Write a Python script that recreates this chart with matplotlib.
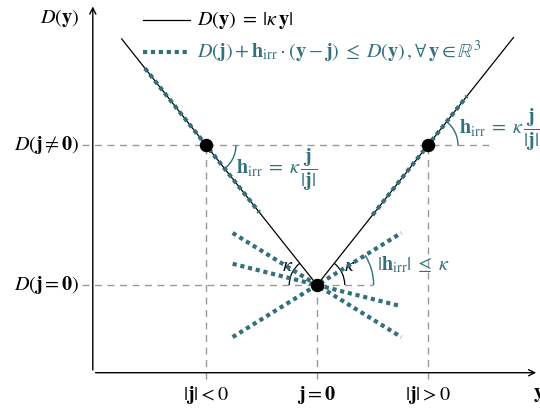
import numpy as np
import matplotlib.pyplot as plt
from matplotlib.patches import Arc

plt.rcParams['mathtext.fontset'] = 'stix'
plt.rcParams['font.family'] = 'STIXGeneral'

teal = '#31707c'

# dissipation potential D(y) = |kappa y|
kappa = 1.26
y_min, y_max = -1.76, 1.77

# points where the subgradient is taken
j_points = [-1.0, 0.0, 1.0]
# tangent segments at j != 0 (start, end)
tangent_left = [-1.55, -0.52]
tangent_right = [0.50, 1.35]
# a few admissible subgradients at j = 0, as fractions of kappa
h_at_zero = [-0.49, -0.20, 0.49]
zero_span = [-0.76, 0.76]

xtick_labels = [r'$|\mathbf{j}| < 0$', r'$\mathbf{j} = \mathbf{0}$', r'$|\mathbf{j}| > 0$']
ytick_labels = [r'$D(\mathbf{j} = \mathbf{0})$', r'$D(\mathbf{j} \neq \mathbf{0})$']

fig = plt.figure(figsize=(5.4, 4.09), dpi=100)
ax = fig.add_axes([0, 0, 1, 1])
ax.set_xlim(-2.856, 2.009)
ax.set_ylim(-1.117, 2.568)
ax.axis('off')

D = lambda y: kappa * np.abs(y)

x0, y0 = -2.02, -0.79  # axis origin

# helper dashed lines
dash = dict(color='#999999', lw=1.0, ls=(0, (5, 4)), zorder=1)
ax.plot([-2.12, 1.56], [D(1), D(1)], **dash)
ax.plot([-2.12, 0.5], [0, 0], **dash)
for j in j_points:
    ax.plot([j, j], [-0.85, D(j)], **dash)

# axes with arrows
ax.annotate('', xy=(x0, 2.535), xytext=(x0, y0),
            arrowprops=dict(arrowstyle='->', color='black', lw=1.0, mutation_scale=11))
ax.annotate('', xy=(2.0, y0), xytext=(x0, y0),
            arrowprops=dict(arrowstyle='->', color='black', lw=1.0, mutation_scale=11))

# the V-shaped potential
ys = np.array([y_min, 0.0, y_max])
ax.plot(ys, D(ys), color='black', lw=0.9, zorder=3)

dot = dict(color=teal, lw=3.0, ls=(0, (1, 0.9)), dash_capstyle='butt', zorder=4)
# tangents at j != 0: h = kappa * sign(j)
for seg, j in [(tangent_left, -1.0), (tangent_right, 1.0)]:
    xs = np.array(seg)
    ax.plot(xs, D(j) + kappa * np.sign(j) * (xs - j), **dot)
# subgradients at j = 0
xs = np.array(zero_span)
for h in h_at_zero:
    ax.plot(xs, h * kappa * xs, **dot)

ax.scatter(j_points, [D(j) for j in j_points], s=75, color='black', zorder=6)

# angle arcs
ang = np.degrees(np.arctan(kappa))
rx, ry = 0.27, 0.27
ax.add_patch(Arc((1, D(1)), 2 * rx, 2 * ry, theta1=0, theta2=ang, color=teal, lw=1.0))
ax.add_patch(Arc((-1, D(1)), 2 * rx, 2 * ry, theta1=-ang, theta2=0, color=teal, lw=1.0))
ax.add_patch(Arc((0, 0), 0.5, 0.5, theta1=180 - ang, theta2=180, color='black', lw=0.9))
ax.add_patch(Arc((0, 0), 0.5, 0.5, theta1=0, theta2=ang, color='black', lw=0.9))
ax.add_patch(Arc((0, 0), 1.02, 1.02, theta1=0, theta2=np.degrees(np.arctan(0.49 * kappa)),
                 color=teal, lw=1.0))

fs = 14.5
ax.text(-0.265, 0.17, r'$\kappa$', fontsize=fs, ha='center', va='center')
ax.text(0.29, 0.17, r'$\kappa$', fontsize=fs, ha='center', va='center')
ax.text(0.54, 0.18, r'$|\mathbf{h}_{\mathrm{irr}}|\; \leq\; \kappa$', fontsize=fs, color=teal,
        ha='left', va='center')
hlabel = r'$\mathbf{h}_{\mathrm{irr}}\; =\; \kappa\,\dfrac{\mathbf{j}}{|\mathbf{j}|}$'
ax.text(1.28, 1.40, hlabel, fontsize=fs, color=teal, ha='left', va='center')
ax.text(-0.73, 1.04, hlabel, fontsize=fs, color=teal, ha='left', va='center')

# tick labels
for j, lab in zip(j_points, xtick_labels):
    ax.text(j, -0.99, lab, fontsize=fs, ha='center', va='center')
ax.text(1.95, -0.99, r'$\mathbf{y}$', fontsize=fs, ha='left', va='center')
ax.text(-2.14, 0, ytick_labels[0], fontsize=fs, ha='right', va='center')
ax.text(-2.14, D(1), ytick_labels[1], fontsize=fs, ha='right', va='center')
ax.text(-2.14, 2.405, r'$D(\mathbf{y})$', fontsize=fs, ha='right', va='center')

# legend
ax.plot([-1.57, -1.144], [2.39, 2.39], color='black', lw=0.9)
ax.plot([-1.57, -1.144], [2.10, 2.10], **dot)
ax.text(-1.08, 2.39, r'$D(\mathbf{y})\; =\; |\kappa\,\mathbf{y}|$', fontsize=fs, ha='left', va='center')
ax.text(-1.08, 2.10,
        r'$D(\mathbf{j}) + \mathbf{h}_{\mathrm{irr}} \cdot (\mathbf{y} - \mathbf{j})\; \leq\; D(\mathbf{y})\,,\forall\,\mathbf{y} \in \mathbb{R}^3$',
        fontsize=fs, color=teal, ha='left', va='center')

fig.savefig('out.png', dpi=100)
